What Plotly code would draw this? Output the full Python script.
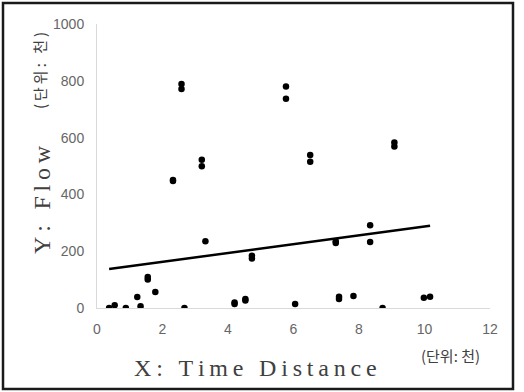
import plotly.graph_objects as go

# Observations: time distance (thousands) vs. flow (thousands)
time_distance = [0.37, 0.54, 0.88, 1.23, 1.33, 1.55, 1.55, 1.78, 2.32, 2.32,
                 2.58, 2.58, 2.67, 3.20, 3.20, 3.31, 4.20, 4.20, 4.53, 4.53,
                 4.73, 4.73, 5.77, 5.77, 6.05, 6.51, 6.51, 7.29, 7.29, 7.39,
                 7.39, 7.83, 8.34, 8.34, 8.72, 9.08, 9.08, 9.98, 10.17]
flow = [0, 10, 0, 39, 6, 109, 100, 56, 451, 447,
        789, 771, 0, 522, 499, 235, 19, 14, 32, 26,
        184, 174, 780, 737, 14, 539, 515, 235, 229, 40,
        32, 42, 291, 232, 0, 583, 569, 36, 40]

# Linear trend line end points
trend_x = [0.37, 10.17]
trend_y = [137, 290]

x_ticks = [0, 2, 4, 6, 8, 10, 12]
y_ticks = [0, 200, 400, 600, 800, 1000]

# Plot area in pixels (for placing titles outside it)
W, H = 524, 392
L, R, T, B = 97, 34, 24, 84
pw, ph = W - L - R, H - T - B


def px(x):
    return (x - L) / pw


def py(y):
    return (H - B - y) / ph


def spaced(s, sep="\u2009"):
    return sep.join(s)


fig = go.Figure()
fig.add_trace(go.Scatter(
    x=time_distance, y=flow, mode="markers",
    marker=dict(color="black", size=6.5),
    hoverinfo="skip", showlegend=False,
))
fig.add_trace(go.Scatter(
    x=trend_x, y=trend_y, mode="lines",
    line=dict(color="black", width=2.5),
    hoverinfo="skip", showlegend=False,
))

tick_font = dict(family="Liberation Sans, Arial, sans-serif", size=14, color="#666666")
fig.update_xaxes(
    range=[0, 12], tickvals=x_ticks, showgrid=False, zeroline=False,
    showline=True, linecolor="#d9d9d9", linewidth=1,
    ticks="outside", ticklen=8, tickcolor="rgba(0,0,0,0)",
    tickfont=tick_font,
)
fig.update_yaxes(
    range=[0, 1000], tickvals=y_ticks, showgrid=False, zeroline=False,
    showline=True, linecolor="#d9d9d9", linewidth=1,
    ticks="outside", ticklen=9, tickcolor="rgba(0,0,0,0)",
    tickfont=tick_font,
)

serif = "Liberation Serif, Times New Roman, serif"
kor = "Noto Sans CJK KR, sans-serif"
annotations = [
    dict(text=spaced("X: Time Distance"), x=px(255), y=py(368),
         font=dict(family=serif, size=24, color="#404040")),
    dict(text="(단위: 천)", x=px(450), y=py(355),
         font=dict(family=kor, size=15, color="#404040")),
    dict(text=spaced("Y: Flow"), x=px(42), y=py(200), textangle=-90,
         font=dict(family=serif, size=24, color="#404040")),
    dict(text=spaced("(단위: 천)", "\u2009"), x=px(39), y=py(71), textangle=-90,
         font=dict(family=kor, size=15, color="#404040")),
]
for a in annotations:
    fig.add_annotation(xref="paper", yref="paper", showarrow=False,
                       xanchor="center", yanchor="middle", **a)

# Outer frame
fig.add_shape(type="rect", xref="paper", yref="paper",
              x0=px(3), x1=px(513), y0=py(389), y1=py(3),
              line=dict(color="#1a1a1a", width=2.5), layer="above")

fig.update_layout(
    width=W, height=H,
    margin=dict(l=L, r=R, t=T, b=B),
    paper_bgcolor="white", plot_bgcolor="white",
)

fig.write_html("out.html")
